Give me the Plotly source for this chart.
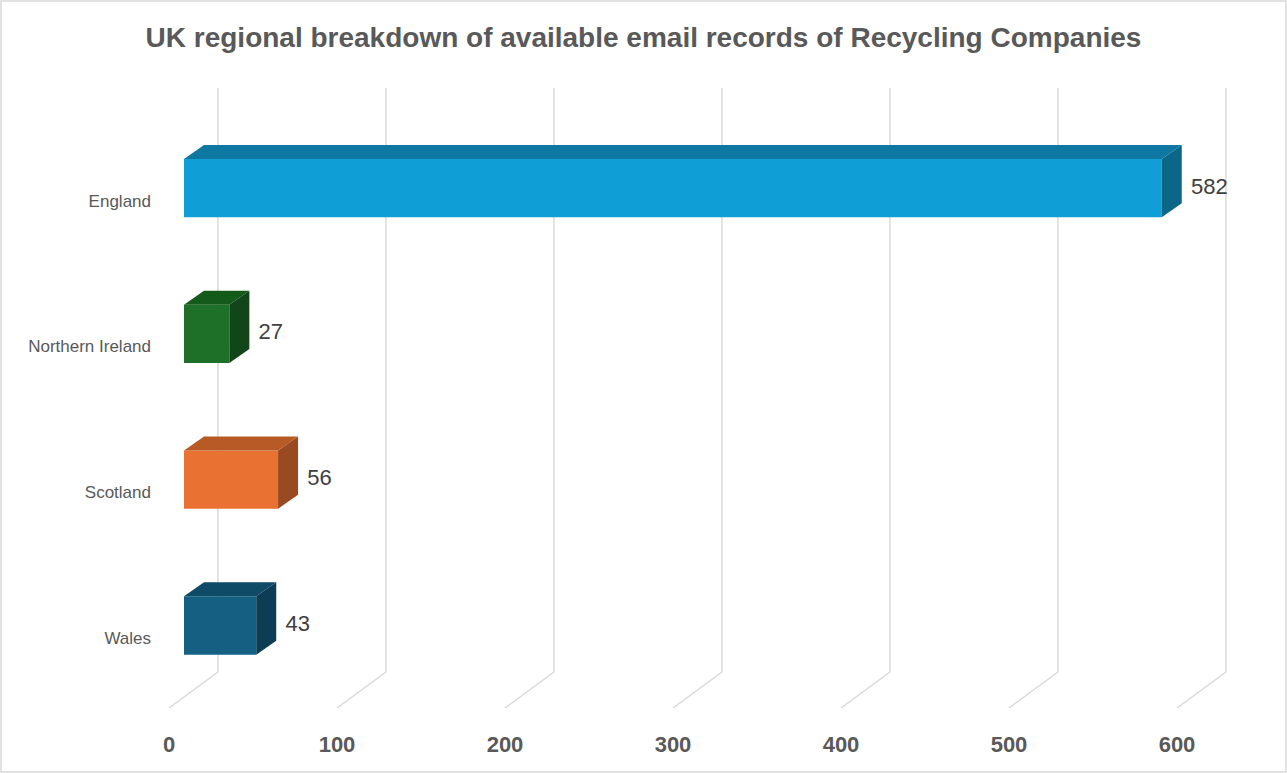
import plotly.graph_objects as go

# chart data
regions = ['Wales', 'Scotland', 'Northern Ireland', 'England']
records = [43, 56, 27, 582]
front_colors = ['#156082', '#E97132', '#1E6F28', '#0F9ED5']
top_colors = ['#0F4A66', '#B85A26', '#145A1A', '#0E78A2']
side_colors = ['#0C3D55', '#9A4A20', '#12451A', '#0B6688']
x_ticks = [0, 100, 200, 300, 400, 500, 600]

# fake 3d geometry (in data units)
bar_half = 0.2
depth_dx = 11.9
depth_dy = 0.096
wall_dx = 20.2
floor_front_dx = -8.9
y_bottom = -0.566
y_floor_back = -0.319
y_top = 3.687

W, H = 1287, 773
ml, mr, mt, mb = 160, 27, 88, 65
plot_w = W - ml - mr
px_per_unit = 1.68
x_range = [(160 - 184) / px_per_unit, (160 - 184 + plot_w) / px_per_unit]
x2_range = [(160 - 169) / px_per_unit, (160 - 169 + plot_w) / px_per_unit]

fig = go.Figure()

# floor diagonals + back wall gridlines, kept below the bars
grid_shapes = []
for v in x_ticks:
    grid_shapes.append(dict(
        type='path', xref='x', yref='y', layer='below',
        path=f'M {v + floor_front_dx},{y_bottom} L {v + wall_dx},{y_floor_back} L {v + wall_dx},{y_top}',
        line=dict(color='#D9D9D9', width=1.5)
    ))

# front faces
fig.add_trace(go.Bar(
    x=records,
    y=list(range(len(regions))),
    orientation='h',
    width=bar_half * 2,
    marker=dict(color=front_colors, line=dict(width=0)),
    showlegend=False
))

# top and side faces
for i, v in enumerate(records):
    yt = i + bar_half
    yb = i - bar_half
    fig.add_trace(go.Scatter(
        x=[0, v, v + depth_dx, depth_dx, 0],
        y=[yt, yt, yt + depth_dy, yt + depth_dy, yt],
        fill='toself', fillcolor=top_colors[i], mode='lines',
        line=dict(width=0, color=top_colors[i]),
        hoverinfo='skip', showlegend=False
    ))
    fig.add_trace(go.Scatter(
        x=[v, v + depth_dx, v + depth_dx, v, v],
        y=[yb, yb + depth_dy, yt + depth_dy, yt, yb],
        fill='toself', fillcolor=side_colors[i], mode='lines',
        line=dict(width=0, color=side_colors[i]),
        hoverinfo='skip', showlegend=False
    ))

# data labels
fig.add_trace(go.Scatter(
    x=[v + depth_dx + 5.5 for v in records],
    y=list(range(len(regions))),
    mode='text',
    text=[str(v) for v in records],
    textposition='middle right',
    textfont=dict(family='Liberation Sans', size=22, color='#404040'),
    hoverinfo='skip', showlegend=False
))

# dummy trace to activate xaxis2 for tick labels
fig.add_trace(go.Scatter(x=[0], y=[0], xaxis='x2', mode='markers',
                         marker=dict(opacity=0), hoverinfo='skip', showlegend=False))

fig.update_layout(
    width=W, height=H,
    margin=dict(l=ml, r=mr, t=mt, b=mb),
    paper_bgcolor='white',
    plot_bgcolor='white',
    title=dict(
        text='<b>UK regional breakdown of available email records of Recycling Companies</b>',
        x=0.5, xref='container', xanchor='center', y=0.952, yanchor='middle',
        font=dict(family='Liberation Sans', size=28, color='#595959')
    ),
    xaxis=dict(range=x_range, showgrid=False, zeroline=False,
               showticklabels=False, ticks=''),
    xaxis2=dict(range=x2_range, overlaying='x', side='bottom',
                tickvals=x_ticks, showgrid=False, zeroline=False,
                ticklabelstandoff=21,
                tickfont=dict(family='Liberation Sans', size=22, color='#595959', weight='bold')),
    yaxis=dict(range=[y_bottom, y_top], showgrid=False, zeroline=False,
               tickvals=[i - 0.086 for i in range(len(regions))],
               ticktext=regions, ticklabelstandoff=8,
               tickfont=dict(family='Liberation Sans', size=17, color='#595959')),
    shapes=grid_shapes + [dict(
        type='rect', xref='paper', yref='paper',
        x0=-(ml - 1) / plot_w, x1=1 + (mr - 1) / plot_w,
        y0=-(mb - 1) / (H - mt - mb), y1=1 + (mt - 1) / (H - mt - mb),
        line=dict(color='#D9D9D9', width=1.5), layer='below'
    )]
)

# drop the page's default body margin so the figure fills the window
fig.write_html("out.html", config={'displayModeBar': False},
               post_script="document.body.style.margin='0';")
